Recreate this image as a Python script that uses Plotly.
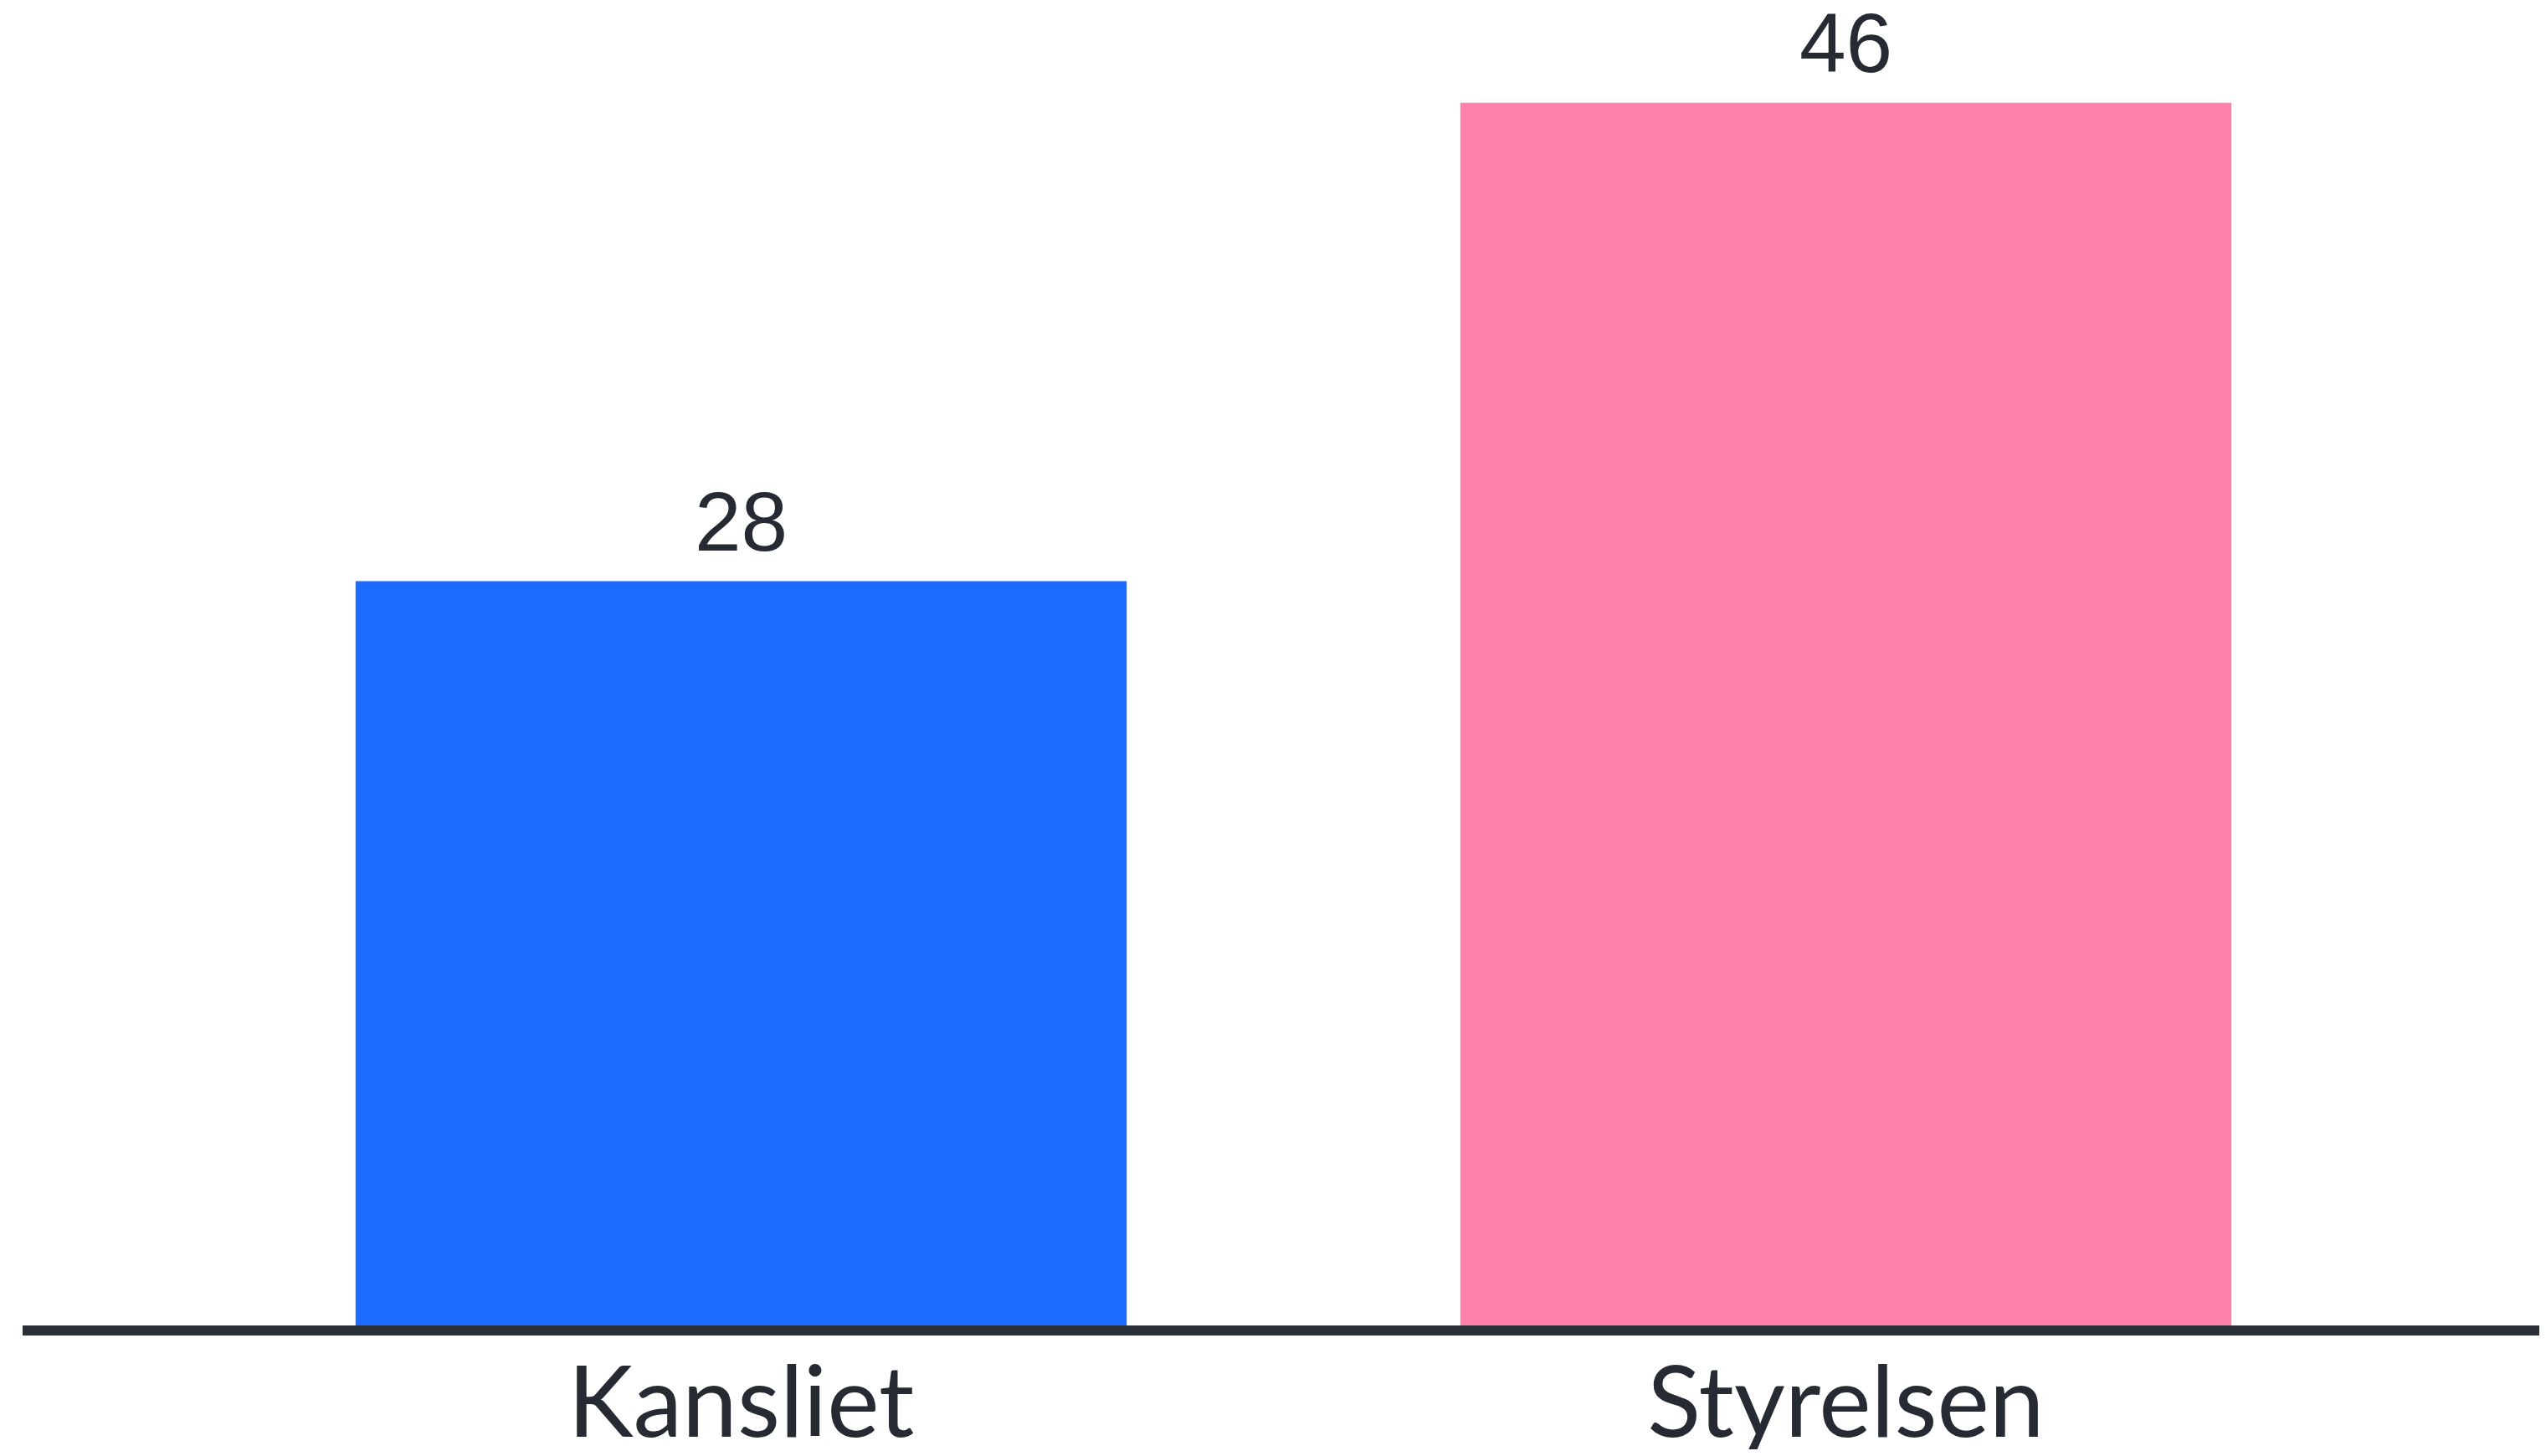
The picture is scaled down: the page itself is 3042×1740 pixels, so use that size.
import plotly.graph_objects as go

categories = ["Kansliet", "Styrelsen"]
values = [28, 46]
colors = ["#1c6bfe", "#ff80aa"]

W, H = 3026, 1724
fig = go.Figure()
fig.add_trace(go.Bar(
    x=categories, y=values,
    marker=dict(color=colors, line=dict(width=0)),
    cliponaxis=False,
    width=0.698,
    hoverinfo="skip",
))
for c, v in zip(categories, values):
    fig.add_annotation(
        x=c, y=v, xref="x", yref="y", text=str(v), showarrow=False,
        yanchor="bottom", yshift=14,
        font=dict(family="Liberation Sans, Arial, sans-serif", size=100, color="#262a33"),
    )
fig.update_layout(
    width=W, height=H,
    margin=dict(l=19, r=0, t=0, b=148, pad=0),
    paper_bgcolor="white", plot_bgcolor="white",
    showlegend=False,
    xaxis=dict(
        range=[-0.6504, 1.6277], automargin=False,
        showline=True, linewidth=12, linecolor="#2b2f38",
        showgrid=False, zeroline=False, ticks="", ticklabelstandoff=-21,
        tickfont=dict(family="Lato, sans-serif", size=118, color="#262a33"),
    ),
    yaxis=dict(
        range=[0, 49.61], visible=False, showgrid=False, zeroline=False,
        automargin=False,
    ),
)
fig.write_html("out.html")
